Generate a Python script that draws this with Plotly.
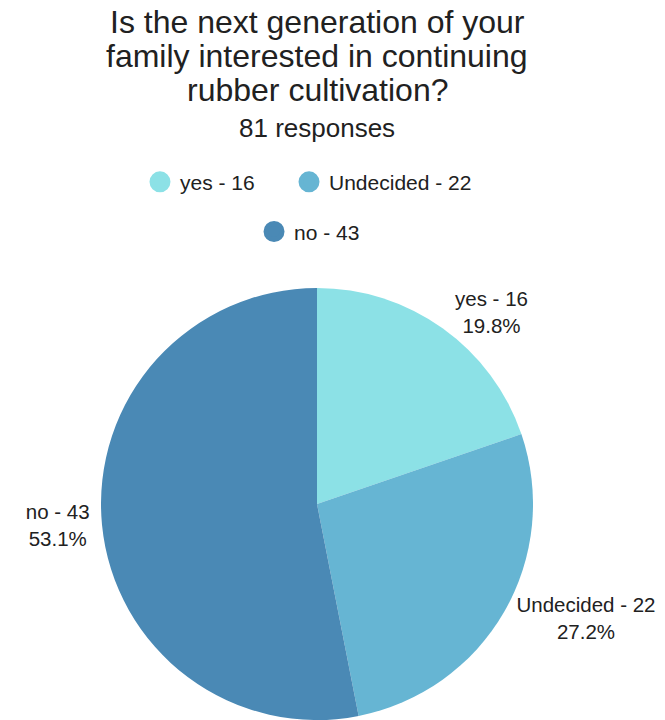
import plotly.graph_objects as go

# Survey answers
categories = ["yes", "Undecided", "no"]
counts = [16, 22, 43]
slice_colors = ["#8CE1E6", "#66B5D3", "#4A89B5"]

title_lines = [
    "Is the next generation of your",
    "family interested in continuing",
    "rubber cultivation?",
]
subtitle = f"{sum(counts)} responses"

FONT = "Liberation Sans, Arial, sans-serif"
TEXT_COLOR = "#212121"

fig = go.Figure()

fig.add_trace(go.Pie(
    labels=categories,
    values=counts,
    sort=False,
    direction="clockwise",
    rotation=0,
    marker=dict(colors=slice_colors, line=dict(width=0)),
    texttemplate="%{label} - %{value}<br>%{percent:.1%}",
    textposition="outside",
    outsidetextfont=dict(family=FONT, size=20.5, color=TEXT_COLOR),
    automargin=False,
    showlegend=False,
    hoverinfo="label+value+percent",
    domain=dict(x=[0, 0.9534], y=[0, 0.6]),
))

# Legend entries drawn as circular markers, one legend box per entry
legend_names = ["legend", "legend2", "legend3"]
legend_pos = [(0.2105, 0.747), (0.4346, 0.747), (0.382, 0.678)]
for name, cat, n, col in zip(legend_names, categories, counts, slice_colors):
    fig.add_trace(go.Scatter(
        x=[None], y=[None], mode="markers",
        name=f"{cat} - {n}",
        marker=dict(symbol="circle", size=16, color=col,
                    line=dict(color=col, width=5)),
        legend=name, showlegend=True, hoverinfo="skip",
    ))

legend_layout = {}
for name, (lx, ly) in zip(legend_names, legend_pos):
    legend_layout[name] = dict(
        x=lx, y=ly, xanchor="left", yanchor="middle",
        orientation="h", bgcolor="rgba(0,0,0,0)", borderwidth=0,
        font=dict(family=FONT, size=21, color=TEXT_COLOR),
        itemclick=False, itemdoubleclick=False,
    )

# Title lines and response count
annotations = []
title_y = [21.5, 55.5, 90]
for line, py in zip(title_lines, title_y):
    annotations.append(dict(
        text=line, x=0.4774, y=1 - py / 720, xref="paper", yref="paper",
        xanchor="center", yanchor="middle", showarrow=False,
        font=dict(family=FONT, size=32, color=TEXT_COLOR),
    ))
annotations.append(dict(
    text=subtitle, x=0.4774, y=1 - 127.5 / 720, xref="paper", yref="paper",
    xanchor="center", yanchor="middle", showarrow=False,
    font=dict(family=FONT, size=26, color=TEXT_COLOR),
))

fig.update_layout(
    width=665, height=720,
    margin=dict(l=0, r=0, t=0, b=0, autoexpand=False),
    paper_bgcolor="white", plot_bgcolor="white",
    xaxis=dict(visible=False), yaxis=dict(visible=False),
    annotations=annotations,
    **legend_layout,
)

fig.write_html("out.html", config={"displayModeBar": False})
